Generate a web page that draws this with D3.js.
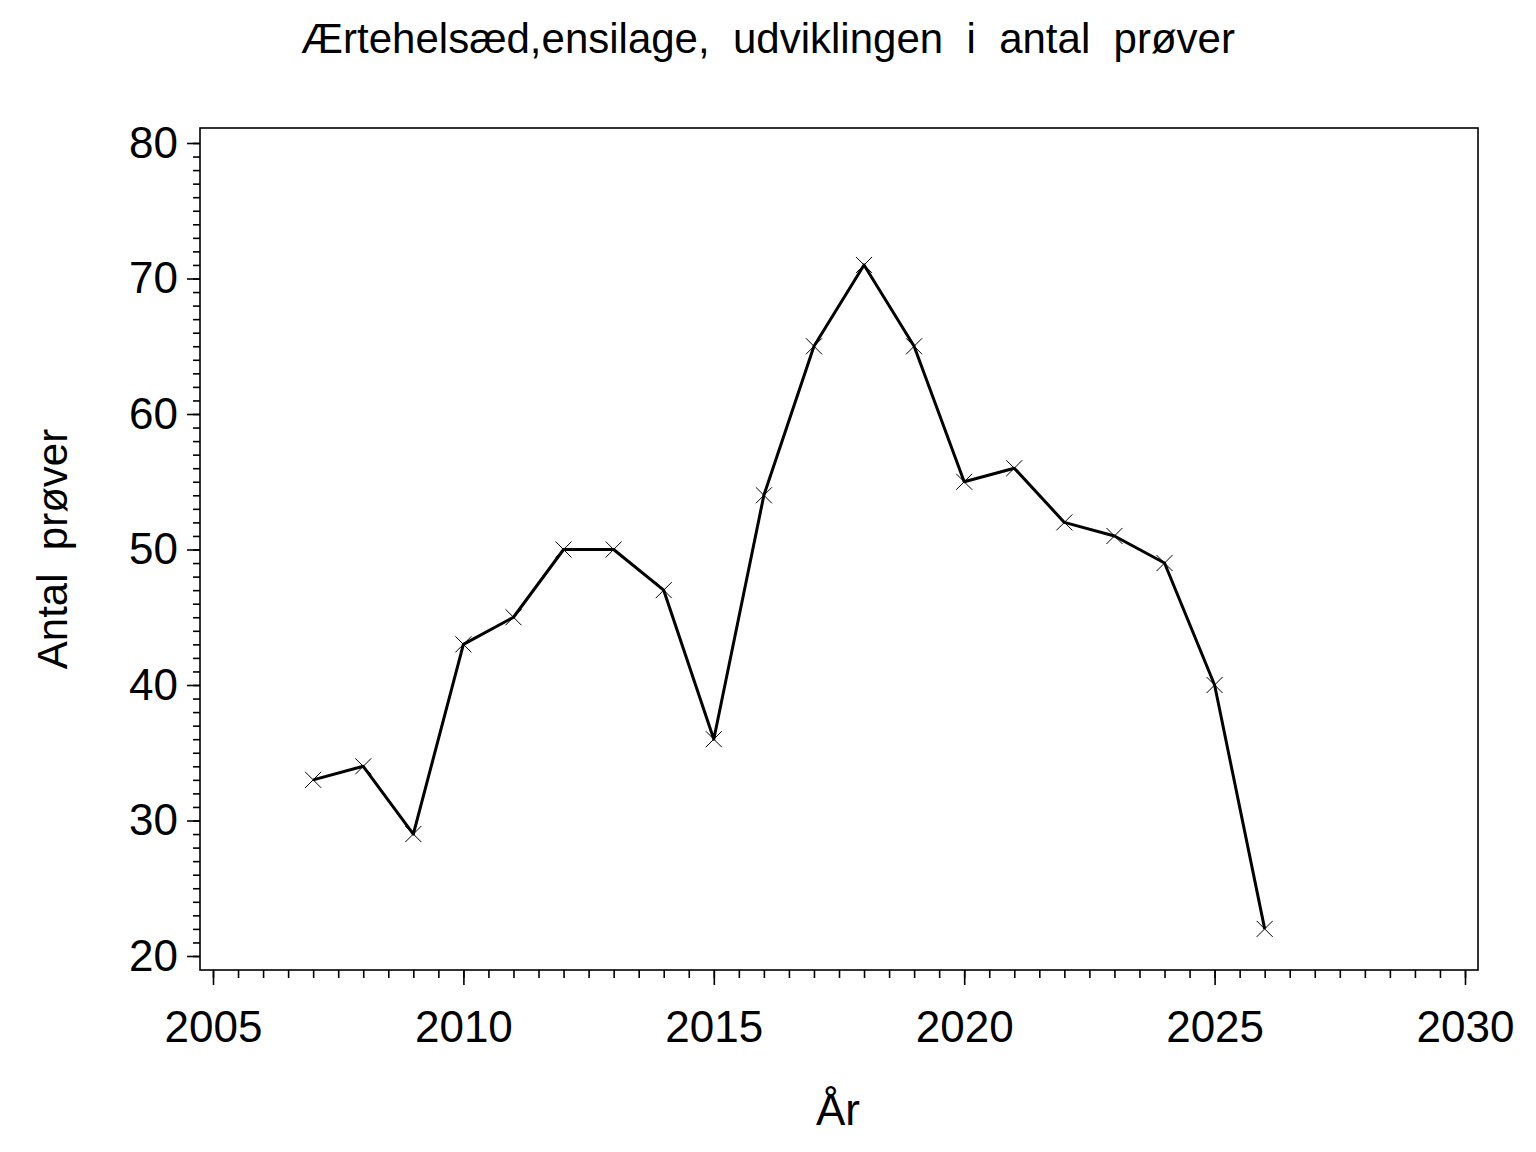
<!DOCTYPE html>
<html>
<head>
<meta charset="utf-8">
<script src="https://cdn.jsdelivr.net/npm/d3@7"></script>
<style>
  body { margin: 0; background: #fff; }
  text { font-family: "Liberation Sans", Arial, sans-serif; fill: #000; white-space: pre; }
</style>
</head>
<body>
<div id="chart"></div>
<script>
const years = [2007, 2008, 2009, 2010, 2011, 2012, 2013, 2014, 2015, 2016,
               2017, 2018, 2019, 2020, 2021, 2022, 2023, 2024, 2025, 2026];
const samples = [33, 34, 29, 43, 45, 50, 50, 47, 36, 54,
                 65, 71, 65, 55, 56, 52, 51, 49, 40, 22];
const xTicks = [2005, 2010, 2015, 2020, 2025, 2030];
const yTicks = [20, 30, 40, 50, 60, 70, 80];

const width = 1536;
const height = 1152;
const frame = { left: 200, right: 1478, top: 128, bottom: 970 };

const svg = d3.select("#chart")
    .append("svg")
    .attr("width", width)
    .attr("height", height);

const x = d3.scaleLinear()
    .domain([2005, 2030])
    .range([213, 1465]);

const y = d3.scaleLinear()
    .domain([20, 80])
    .range([956, 143]);

// plot frame
svg.append("rect")
    .attr("x", frame.left)
    .attr("y", frame.top)
    .attr("width", frame.right - frame.left)
    .attr("height", frame.bottom - frame.top)
    .attr("fill", "none")
    .attr("stroke", "#000")
    .attr("stroke-width", 1.6);

// y axis: major ticks every 10, minor every 1
svg.append("g")
    .attr("transform", `translate(${frame.left}, 0)`)
    .call(d3.axisLeft(y).tickValues(d3.range(20, 81, 1)).tickSize(7).tickFormat(""))
    .call(g => g.select(".domain").remove())
    .selectAll("line").attr("stroke-width", 1.6);

svg.append("g")
    .attr("transform", `translate(${frame.left}, 0)`)
    .call(d3.axisLeft(y).tickValues(yTicks).tickSize(13).tickPadding(9).tickFormat(d3.format("d")))
    .call(g => g.select(".domain").remove())
    .call(g => g.selectAll("line").attr("stroke-width", 1.6))
    .selectAll("text")
    .style("font-size", "44px")
    .attr("fill", "#000");

// x axis: major ticks every 5, minor every 0.5
svg.append("g")
    .attr("transform", `translate(0, ${frame.bottom})`)
    .call(d3.axisBottom(x).tickValues(d3.range(2005, 2030.01, 0.5)).tickSize(8).tickFormat(""))
    .call(g => g.select(".domain").remove())
    .selectAll("line").attr("stroke-width", 1.6);

svg.append("g")
    .attr("transform", `translate(0, ${frame.bottom})`)
    .call(d3.axisBottom(x).tickValues(xTicks).tickSize(15).tickPadding(26).tickFormat(d3.format("d")))
    .call(g => g.select(".domain").remove())
    .call(g => g.selectAll("line").attr("stroke-width", 1.6))
    .selectAll("text")
    .style("font-size", "44px")
    .attr("fill", "#000");

const data = years.map((yr, i) => ({ year: yr, value: samples[i] }));

// series line
svg.append("path")
    .datum(data)
    .attr("fill", "none")
    .attr("stroke", "#000")
    .attr("stroke-width", 3)
    .attr("stroke-linejoin", "round")
    .attr("d", d3.line().x(d => x(d.year)).y(d => y(d.value)));

// x markers
const m = 8;
svg.selectAll(".marker")
    .data(data)
    .enter().append("path")
    .attr("class", "marker")
    .attr("fill", "none")
    .attr("stroke", "#000")
    .attr("stroke-width", 1)
    .attr("d", d => {
        const cx = x(d.year), cy = y(d.value);
        return `M${cx - m},${cy - m}L${cx + m},${cy + m}M${cx - m},${cy + m}L${cx + m},${cy - m}`;
    });

// title
svg.append("text")
    .attr("x", 768)
    .attr("y", 53)
    .attr("text-anchor", "middle")
    .style("font-size", "42px")
    .text("Ærtehelsæd,ensilage,  udviklingen  i  antal  prøver");

// axis labels
svg.append("text")
    .attr("x", 838)
    .attr("y", 1125)
    .attr("text-anchor", "middle")
    .style("font-size", "44px")
    .text("År");

svg.append("text")
    .attr("transform", "translate(67, 549) rotate(-90)")
    .attr("text-anchor", "middle")
    .style("font-size", "42px")
    .text("Antal  prøver");
</script>
</body>
</html>
